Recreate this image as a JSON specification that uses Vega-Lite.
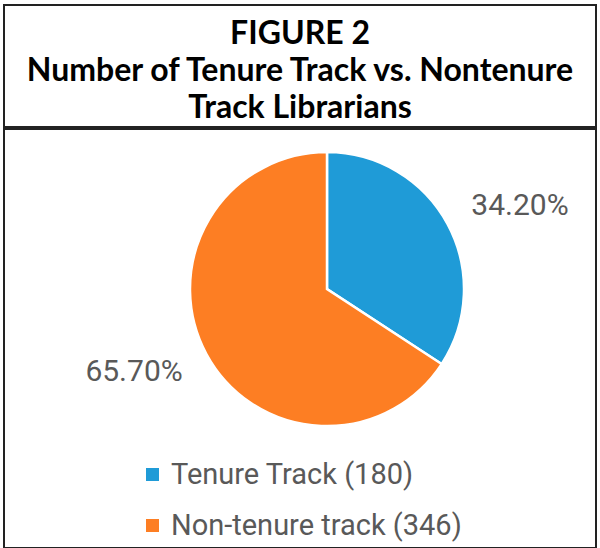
{
  "$schema": "https://vega.github.io/schema/vega-lite/v6.json",
  "padding": {"left": 3, "top": 4, "right": 3, "bottom": 0},
  "spacing": 0,
  "config": {"view": {"stroke": "#222222", "strokeWidth": 2}, "concat": {"spacing": 0}},
  "vconcat": [
    {
      "width": 592,
      "height": 122,
      "data": {"values": [
        {"line": "FIGURE 2"},
        {"line": "Number of Tenure Track vs. Nontenure"},
        {"line": "Track Librarians"}
      ]},
      "mark": {"type": "text", "font": "Lato", "fontWeight": "bold", "fontSize": 32, "align": "center", "baseline": "middle", "dy": 5, "color": "#000000"},
      "encoding": {
        "y": {"field": "line", "type": "ordinal", "sort": null, "axis": null, "scale": {"padding": 0.671}},
        "text": {"field": "line", "type": "nominal"}
      }
    },
    {
      "width": 592,
      "height": 419,
      "data": {"values": [
        {"category": "Tenure Track (180)", "count": 180, "label": "34.20%", "rank": 1},
        {"category": "Non-tenure track (346)", "count": 346, "label": "65.70%", "rank": 2}
      ]},
      "encoding": {
        "theta": {"field": "count", "type": "quantitative", "stack": true},
        "order": {"field": "rank", "type": "quantitative"},
        "x": {"datum": 0.5456, "type": "quantitative", "scale": {"domain": [0, 1]}, "axis": null},
        "y": {"datum": 0.618, "type": "quantitative", "scale": {"domain": [0, 1]}, "axis": null}
      },
      "layer": [
        {
          "mark": {"type": "arc", "outerRadius": 137, "stroke": "#ffffff", "strokeWidth": 2.5},
          "encoding": {
            "color": {
              "field": "category", "type": "nominal",
              "scale": {"domain": ["Tenure Track (180)", "Non-tenure track (346)"], "range": ["#1F9BD7", "#FD7E23"]},
              "legend": {"title": null, "orient": "none", "legendX": 134, "legendY": 455, "direction": "vertical", "symbolType": "square", "symbolSize": 169, "symbolStrokeWidth": 0, "labelFontSize": 29, "labelFont": "Roboto", "labelColor": "#595959", "labelLimit": 500, "rowPadding": 21, "labelOffset": 4, "padding": 0}
            }
          }
        },
        {
          "mark": {"type": "text", "radius": 210, "thetaOffset": 0.09, "fontSize": 30, "font": "Roboto", "color": "#595959"},
          "encoding": {"text": {"field": "label", "type": "nominal"}}
        }
      ]
    }
  ]
}
